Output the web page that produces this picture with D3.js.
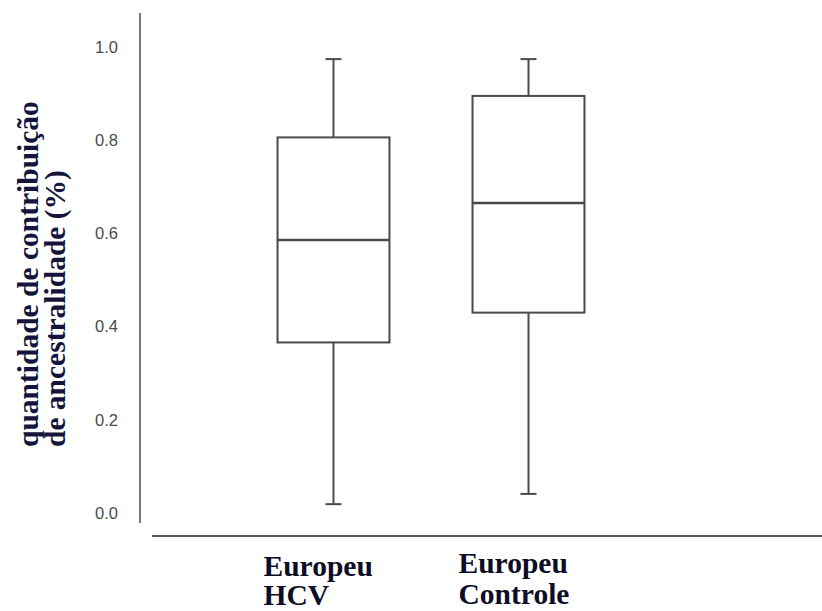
<!DOCTYPE html>
<html>
<head>
<meta charset="utf-8">
<script src="https://cdn.jsdelivr.net/npm/d3@7"></script>
<style>
  html, body { margin: 0; padding: 0; background: #fff; }
  svg { display: block; }
</style>
</head>
<body>
<svg id="chart" width="822" height="611"></svg>
<script>
// ---- data ----
const categories = ["Europeu HCV", "Europeu Controle"];
const labelLine1 = ["Europeu", "Europeu"];
const labelLine2 = ["HCV", "Controle"];
const whiskerMin = [0.019, 0.041];
const q1Values   = [0.366, 0.430];
const medians    = [0.586, 0.665];
const q3Values   = [0.806, 0.895];
const whiskerMax = [0.974, 0.974];
const yTicks = [0.0, 0.2, 0.4, 0.6, 0.8, 1.0];
const yTitle = ["quantidade de contribuição", "de ancestralidade (%)"];

const svg = d3.select("#chart");

const y = d3.scaleLinear().domain([0, 1]).range([513, 47]);
const x = d3.scaleBand().domain(categories).range([236, 626])
  .paddingInner(0.426).paddingOuter(0.213);

const boxStroke = "#4a4a4a";

// axis lines
svg.append("line").attr("x1", 140).attr("x2", 140).attr("y1", 13).attr("y2", 523)
  .attr("stroke", "#777").attr("stroke-width", 2);
svg.append("line").attr("x1", 152).attr("x2", 822).attr("y1", 536).attr("y2", 536)
  .attr("stroke", "#555").attr("stroke-width", 2);

// y tick labels
const yAxis = d3.axisLeft(y).tickValues(yTicks).tickFormat(d3.format(".1f")).tickSize(0).tickPadding(0);
const gy = svg.append("g").attr("transform", "translate(118,0)").call(yAxis);
gy.select(".domain").remove();
gy.selectAll("text")
  .attr("font-family", "'Liberation Sans', Arial, sans-serif")
  .attr("font-size", 16.5)
  .attr("fill", "#4a4a4a");

// boxes
const g = svg.append("g");
categories.forEach((c, i) => {
  const x0 = x(c), bw = x.bandwidth(), cx = x0 + bw / 2, cap = 8;
  // whiskers
  g.append("line").attr("x1", cx).attr("x2", cx).attr("y1", y(whiskerMax[i])).attr("y2", y(q3Values[i]))
    .attr("stroke", boxStroke).attr("stroke-width", 2);
  g.append("line").attr("x1", cx).attr("x2", cx).attr("y1", y(q1Values[i])).attr("y2", y(whiskerMin[i]))
    .attr("stroke", boxStroke).attr("stroke-width", 2);
  g.append("line").attr("x1", cx - cap).attr("x2", cx + cap).attr("y1", y(whiskerMax[i])).attr("y2", y(whiskerMax[i]))
    .attr("stroke", boxStroke).attr("stroke-width", 2);
  g.append("line").attr("x1", cx - cap).attr("x2", cx + cap).attr("y1", y(whiskerMin[i])).attr("y2", y(whiskerMin[i]))
    .attr("stroke", boxStroke).attr("stroke-width", 2);
  // box
  g.append("rect").attr("x", x0).attr("y", y(q3Values[i]))
    .attr("width", bw).attr("height", y(q1Values[i]) - y(q3Values[i]))
    .attr("fill", "#fff").attr("stroke", boxStroke).attr("stroke-width", 2);
  // median
  g.append("line").attr("x1", x0).attr("x2", x0 + bw).attr("y1", y(medians[i])).attr("y2", y(medians[i]))
    .attr("stroke", boxStroke).attr("stroke-width", 2.5);
});

// x labels
const labelFont = "'Liberation Serif', 'Times New Roman', serif";
const lineOffset = [[0, 0], [-3, -1]];
categories.forEach((c, i) => {
  const lx = x(c) - 14;
  const t = svg.append("text")
    .attr("font-family", labelFont).attr("font-weight", "bold").attr("font-size", 29.5)
    .attr("fill", "#0d0d26");
  t.append("tspan").attr("x", lx).attr("y", 576 + lineOffset[i][0]).text(labelLine1[i]);
  t.append("tspan").attr("x", lx).attr("y", 605 + lineOffset[i][1]).text(labelLine2[i]);
});

// y title
const yt = svg.append("text")
  .attr("transform", "translate(0,447) rotate(-90)")
  .attr("font-family", labelFont).attr("font-weight", "bold").attr("font-size", 29.5)
  .attr("fill", "#14143c");
yt.append("tspan").attr("x", 0).attr("y", 38).text(yTitle[0]);
yt.append("tspan").attr("x", 0).attr("y", 65).text(yTitle[1]);
</script>
</body>
</html>
